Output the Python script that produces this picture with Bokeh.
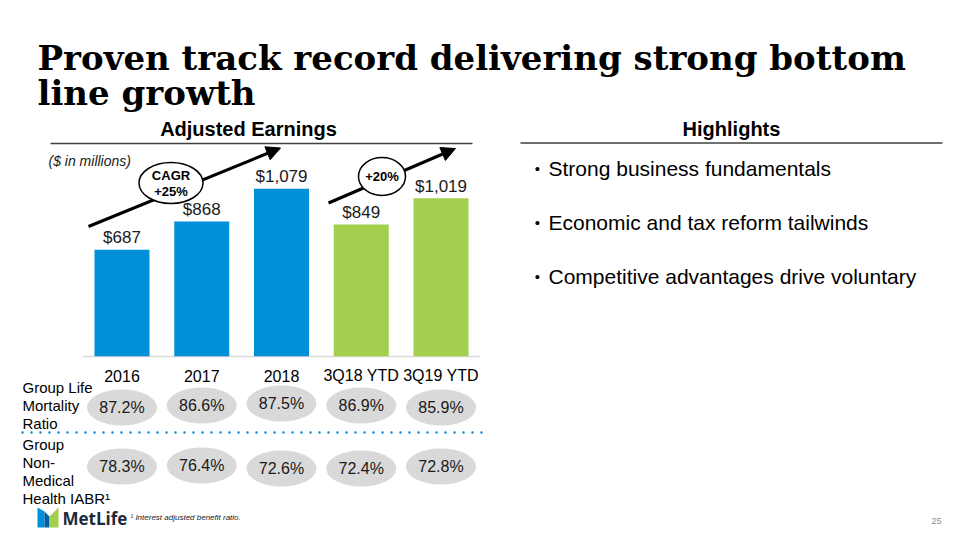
from bokeh.plotting import figure
from bokeh.models import Range1d, Arrow, NormalHead, ColumnDataSource
from bokeh.core.properties import value
from bokeh.embed import file_html
from bokeh.resources import INLINE

# ---------------- data ----------------
categories = ["2016", "2017", "2018", "3Q18 YTD", "3Q19 YTD"]
earnings = [687, 868, 1079, 849, 1019]
earnings_labels = ["$687", "$868", "$1,079", "$849", "$1,019"]
mortality_ratio = [87.2, 86.6, 87.5, 86.9, 85.9]
nonmedical_iabr = [78.3, 76.4, 72.6, 72.4, 72.8]
cagr_label = ["CAGR", "+25%"]
ytd_growth_label = "+20%"
highlights = ["Strong business fundamentals",
              "Economic and tax reform tailwinds",
              "Competitive advantages drive voluntary"]
title_lines = ["Proven track record delivering strong bottom", "line growth"]

# ---------------- layout helpers (slide pixels -> figure pixels) ----------------
W, H = 950, 534
OFF = 0
def X(rx):
    return rx - OFF
def Y(ry):
    return H + OFF - ry

SANS = value("Liberation Sans")
BLUE = "#0090DA"
GREEN = "#A4CE4E"
colors = [BLUE, BLUE, BLUE, GREEN, GREEN]

# category axis mapping: index 0 centred at slide x 121.5, pitch 79.75 px
c0, pitch = 121.5, 79.75
cat_start = (OFF - c0) / pitch
cat_end = (OFF + W - c0) / pitch
# value axis: $0 at slide y 355.7, 0.1551 px per $1m
base_py = Y(355.7)
ppu = 0.1551
usd_start = -base_py / ppu
usd_end = (H - base_py) / ppu

p = figure(width=W, height=H, x_range=Range1d(0, W), y_range=Range1d(0, H),
           output_backend="svg", toolbar_location=None, min_border=0,
           x_axis_location=None, y_axis_location=None,
           outline_line_color=None, background_fill_color="white",
           border_fill_color="white")
p.xgrid.visible = False
p.ygrid.visible = False
p.extra_x_ranges = {"cat": Range1d(cat_start, cat_end)}
p.extra_y_ranges = {"usd": Range1d(usd_start, usd_end)}

idx = list(range(len(categories)))
src = ColumnDataSource(dict(idx=idx, cat=categories, earn=earnings,
                            lab=earnings_labels, color=colors,
                            mort=[f"{v:.1f}%" for v in mortality_ratio],
                            iabr=[f"{v:.1f}%" for v in nonmedical_iabr]))

# ---------------- title ----------------
p.text(x=[X(37), X(37)], y=[Y(57), Y(92)], text=title_lines,
       text_font=value("DejaVu Serif"), text_font_style="bold",
       text_font_size="34px", text_color="#000000",
       text_align="left", text_baseline="alphabetic")

# ---------------- section headers ----------------
p.text(x=[X(248), X(731)], y=[Y(128), Y(128)],
       text=["Adjusted Earnings", "Highlights"], text_font=SANS,
       text_font_style="bold", text_font_size="20px", text_color="#000000",
       text_align="center", text_baseline="middle")
p.segment(x0=[X(50), X(520)], y0=[Y(143), Y(142.5)], x1=[X(472), X(942)],
          y1=[Y(143), Y(142.5)], line_color="#404040", line_width=1.5)

# ---------------- bars ----------------
p.segment(x0=[X(82)], y0=[Y(356)], x1=[X(480)], y1=[Y(356)],
          line_color="#d9d9d9", line_width=1.5)
p.vbar(x="idx", top="earn", bottom=0, width=0.69, fill_color="color",
       line_color=None, source=src, x_range_name="cat", y_range_name="usd")
p.text(x="idx", y="earn", text="lab", source=src, x_range_name="cat",
       y_range_name="usd", text_font=SANS, text_font_size="17px",
       text_color="#1a1a1a", text_align="center", text_baseline="middle",
       y_offset=-12)

p.text(x=[X(48)], y=[Y(160)], text=["($ in millions)"], text_font=SANS,
       text_font_style="italic", text_font_size="14px", text_color="#1a1a1a",
       text_align="left", text_baseline="middle")

# growth arrows (behind the ellipses)
for (xs, ys, xe, ye) in [(88, 226, 280, 147.5), (328, 202.5, 455, 148)]:
    arr = Arrow(end=NormalHead(size=14, fill_color="black", line_color="black"),
                x_start=X(xs), y_start=Y(ys), x_end=X(xe), y_end=Y(ye),
                line_width=3, line_color="black", level="underlay")
    p.add_layout(arr)

p.ellipse(x=[X(170.5), X(381.5)], y=[Y(182.5), Y(176)], width=[64, 47],
          height=[41, 38], fill_color="white", line_color="black",
          line_width=1.5)
p.text(x=[X(170.5), X(170.5), X(381.5)], y=[Y(174.5), Y(191), Y(176)],
       text=cagr_label + [ytd_growth_label], text_font=SANS,
       text_font_style="bold", text_font_size="13px", text_color="#000000",
       text_align="center", text_baseline="middle")

# ---------------- category labels ----------------
p.text(x="idx", y=Y(375), text="cat", source=src, x_range_name="cat",
       text_font=SANS, text_font_size="16px", text_color="#000000",
       text_align="center", text_baseline="middle")

# ---------------- ratio rows ----------------
row1_y = [Y(v) for v in (407, 405, 403, 405, 407)]
row2_y = [Y(v) for v in (466, 465, 468, 468, 466)]
src.data["r1y"] = row1_y
src.data["r2y"] = row2_y
for col, ycol in (("mort", "r1y"), ("iabr", "r2y")):
    p.ellipse(x="idx", y=ycol, width=70, height=36, width_units="screen",
              height_units="screen", fill_color="#d9d9d9", line_color=None,
              source=src, x_range_name="cat")
    p.text(x="idx", y=ycol, text=col, source=src, x_range_name="cat",
           text_font=SANS, text_font_size="16px", text_color="#1a1a1a",
           text_align="center", text_baseline="middle")

row_labels = ["Group Life", "Mortality", "Ratio", "Group", "Non-", "Medical",
              "Health IABR\u00b9"]
row_label_y = [387, 405, 423, 444, 462, 480, 498]
p.text(x=[X(22)] * len(row_labels), y=[Y(v) for v in row_label_y],
       text=row_labels, text_font=SANS, text_font_size="15px",
       text_color="#000000", text_align="left", text_baseline="middle")

p.line(x=[X(22), X(484)], y=[Y(432), Y(432)], line_color=BLUE,
       line_width=2.5, line_dash="0 9", line_cap="round")

# ---------------- highlights ----------------
hy = [168, 222, 276]
p.text(x=[X(537)] * 3, y=[Y(v) for v in hy], text=["\u2022"] * 3,
       text_font=SANS, text_font_size="15px", text_color="#000000",
       text_align="center", text_baseline="middle")
p.text(x=[X(548)] * 3, y=[Y(v) for v in hy], text=highlights,
       text_font=SANS, text_font_size="21px", text_color="#000000",
       text_align="left", text_baseline="middle")

# ---------------- footer: logo, footnote, page number ----------------
p.patches(xs=[[X(37), X(44), X(44), X(37)],
              [X(44), X(49), X(49), X(44)],
              [X(49), X(58), X(58), X(49)]],
          ys=[[Y(507), Y(511), Y(527), Y(527)],
              [Y(511), Y(516), Y(527), Y(527)],
              [Y(516), Y(507), Y(527), Y(527)]],
          fill_color=["#0090DA", "#0061A0", "#A4CE4E"], line_color=None)
p.text(x=[X(62)], y=[Y(517.5)], text=["MetLife"], text_font=value("Open Sans"),
       text_font_style="bold", text_font_size="17px", text_color="#1b2a3a",
       text_align="left", text_baseline="middle")
p.text(x=[X(130)], y=[Y(517)], text=["\u00b9 Interest adjusted benefit ratio."],
       text_font=SANS, text_font_style="italic", text_font_size="8px",
       text_color="#1a1a1a", text_align="left", text_baseline="middle")
p.text(x=[X(936)], y=[Y(520)], text=["25"], text_font=SANS,
       text_font_size="9px", text_color="#8c8c8c", text_align="center",
       text_baseline="middle")

open("out.html", "w").write(file_html(p, INLINE))
